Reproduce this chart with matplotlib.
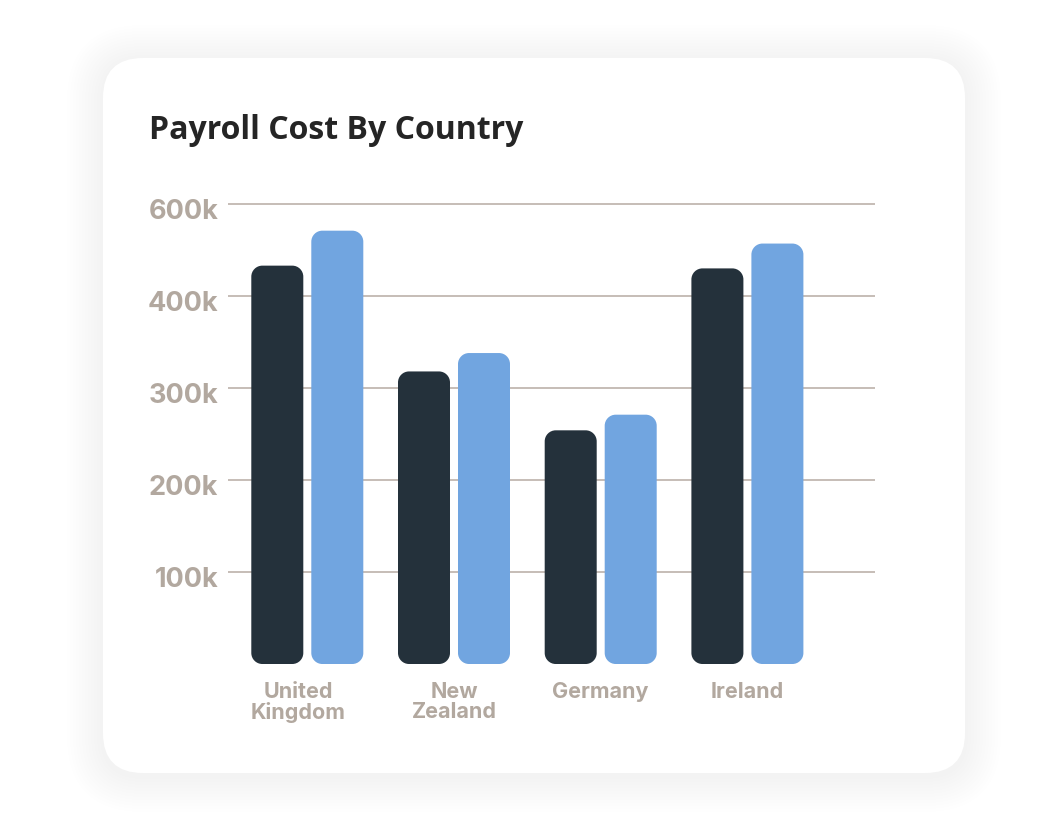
import matplotlib
matplotlib.use("Agg")
import matplotlib.pyplot as plt
from matplotlib.patches import FancyBboxPatch, PathPatch
from matplotlib.path import Path
from matplotlib.transforms import ScaledTranslation
import numpy as np

# ---- data ----
categories = ["United\nKingdom", "New\nZealand", "Germany", "Ireland"]
series_a = [433000, 318000, 254000, 430000]   # dark bars
series_b = [471000, 338000, 271000, 457000]   # blue bars
tick_values = [100000, 200000, 300000, 400000, 500000]
tick_labels = ["100k", "200k", "300k", "400k", "600k"]
title = "Payroll Cost By Country"

DARK = "#24313b"
BLUE = "#71a5e0"
GREY = "#b2a89f"
GRID = "#bcb2aa"

W, H = 1040, 832
fig = plt.figure(figsize=(W / 100, H / 100), dpi=100)
fig.patch.set_facecolor("white")

# background layer for card + shadow
bg = fig.add_axes([0, 0, 1, 1])
bg.set_xlim(0, W)
bg.set_ylim(H, 0)
bg.axis("off")
cx0, cy0, cx1, cy1 = 103, 58, 965, 773
for i in range(12, 0, -1):
    g = i * 3.0
    bg.add_patch(FancyBboxPatch((cx0 - g, cy0 - g + 3), (cx1 - cx0) + 2 * g, (cy1 - cy0) + 2 * g,
                                boxstyle=f"round,pad=0,rounding_size={40 + g}",
                                facecolor="#9090a8", edgecolor="none", alpha=0.0022))
bg.add_patch(FancyBboxPatch((cx0, cy0), cx1 - cx0, cy1 - cy0,
                            boxstyle="round,pad=0,rounding_size=40",
                            facecolor="white", edgecolor="none"))
bg.text(149, 139, title, fontsize=23, fontweight="bold", family="Open Sans",
        color="#252525", ha="left", va="baseline")

# ---- chart axes ----
px_per_unit = 146.7
x_left, x_right = 228, 875
y_base = 664
px_per_val = 92 / 100000
ymax = 520000
x0_data = -(307.3 - x_left) / px_per_unit
x1_data = (x_right - 307.3) / px_per_unit
ax = fig.add_axes([x_left / W, (H - y_base) / H, (x_right - x_left) / W, ymax * px_per_val / H])
ax.set_xlim(x0_data, x1_data)
ax.set_ylim(0, ymax)
ax.set_facecolor("none")
for s in ax.spines.values():
    s.set_visible(False)

for v in tick_values:
    ax.axhline(v, color=GRID, lw=1.2, zorder=1)

ax.set_yticks(tick_values)
ax.set_yticklabels(tick_labels)
ax.tick_params(axis="y", length=0, pad=7)
for lab in ax.get_yticklabels():
    lab.set_fontsize(19.5)
    lab.set_fontweight("bold")
    lab.set_family("Inter")
    lab.set_color(GREY)
    lab.set_transform(lab.get_transform() + ScaledTranslation(0, -5 / 100, fig.dpi_scale_trans))

x = np.arange(len(categories))
bw = 52 / px_per_unit
off = (bw + 8 / px_per_unit) / 2
bars_a = ax.bar(x - off, series_a, width=bw, color=DARK)
bars_b = ax.bar(x + off, series_b, width=bw, color=BLUE)


def rounded_path(x0, y0, w, h, rx, ry):
    k = 0.5523
    x1, y1 = x0 + w, y0 + h
    verts = [
        (x0 + rx, y0),
        (x1 - rx, y0),
        (x1 - rx + k * rx, y0), (x1, y0 + ry - k * ry), (x1, y0 + ry),
        (x1, y1 - ry),
        (x1, y1 - ry + k * ry), (x1 - rx + k * rx, y1), (x1 - rx, y1),
        (x0 + rx, y1),
        (x0 + rx - k * rx, y1), (x0, y1 - ry + k * ry), (x0, y1 - ry),
        (x0, y0 + ry),
        (x0, y0 + ry - k * ry), (x0 + rx - k * rx, y0), (x0 + rx, y0),
        (x0 + rx, y0),
    ]
    codes = [Path.MOVETO, Path.LINETO,
             Path.CURVE4, Path.CURVE4, Path.CURVE4,
             Path.LINETO,
             Path.CURVE4, Path.CURVE4, Path.CURVE4,
             Path.LINETO,
             Path.CURVE4, Path.CURVE4, Path.CURVE4,
             Path.LINETO,
             Path.CURVE4, Path.CURVE4, Path.CURVE4,
             Path.CLOSEPOLY]
    return Path(verts, codes)


r_px = 11
rx = r_px / px_per_unit
ry = r_px / px_per_val
for bars in (bars_a, bars_b):
    for b in bars:
        b.set_visible(False)
        ax.add_patch(PathPatch(rounded_path(b.get_x(), 0, b.get_width(), b.get_height(), rx, ry),
                               facecolor=b.get_facecolor(), edgecolor="none", zorder=3))

ax.set_xticks(x)
ax.set_xticklabels(categories)
ax.tick_params(axis="x", length=0, pad=13)
xlabels = ax.get_xticklabels()
for lab in xlabels:
    lab.set_fontsize(15.5)
    lab.set_fontweight("bold")
    lab.set_family("Inter")
    lab.set_color(GREY)
    lab.set_linespacing(1.0)
# the first label sits slightly left of its group in the reference
xlabels[0].set_transform(xlabels[0].get_transform() + ScaledTranslation(-9 / 100, 0, fig.dpi_scale_trans))

fig.savefig("out.png", dpi=100, facecolor="white")
